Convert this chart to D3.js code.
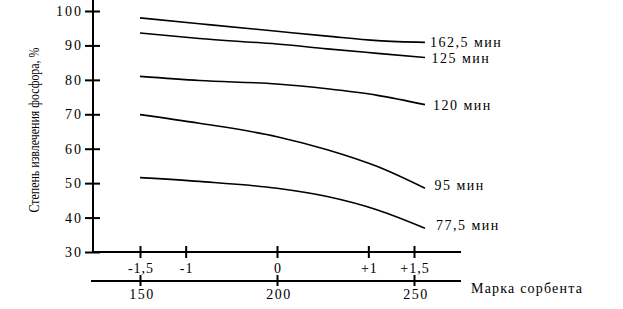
<!DOCTYPE html>
<html><head><meta charset="utf-8">
<script src="https://cdn.jsdelivr.net/npm/d3@7"></script>
<style>
html,body{margin:0;padding:0;background:#fff;}
svg{display:block;}
text{font-family:"Liberation Serif","Times New Roman",serif;fill:#000;}
</style></head>
<body>
<svg id="c" width="623" height="309"></svg>
<script>
// data
const codes = [-1.5, -0.85, 0, 0.55, 1.1, 1.62];           // coded sorbent grade positions
const seriesNames = ["162,5 мин", "125 мин", "120 мин", "95 мин", "77,5 мин"];
const s162 = [98.0, 96.3, 94.1, 92.7, 91.4, 90.9];
const s125 = [93.6, 92.0, 90.4, 89.0, 87.7, 86.5];
const s120 = [81.0, 79.8, 78.8, 77.4, 75.5, 72.8];
const s95  = [69.9, 67.4, 63.5, 59.7, 54.8, 48.5];
const s775 = [51.6, 50.5, 48.5, 46.1, 42.2, 36.9];
const yTicks = [30, 40, 50, 60, 70, 80, 90, 100];
const codeTicks = [-1.5, -1, 0, 1, 1.5];
const codeLabels = ["-1,5", "-1", "0", "+1", "+1,5"];
const markTicks = [150, 200, 250];
const yTitle = "Степень извлечения фосфора, %";
const xTitle = "Марка сорбента";

const svg = d3.select("#c");
const y = d3.scaleLinear().domain([30, 100]).range([252, 11]);
const xc = d3.scaleLinear().domain([-1.5, 1.5]).range([140, 414]);
const xm = d3.scaleLinear().domain([150, 250]).range([140, 414]);
const axX = 93;

// y axis
const gy = svg.append("g").attr("transform", `translate(${axX},0)`)
  .call(d3.axisLeft(y).tickValues(yTicks).tickSize(8).tickPadding(4));
gy.select(".domain").remove();
gy.selectAll(".tick line").attr("x1", 7).attr("stroke", "#000").attr("stroke-width", 2);
gy.selectAll(".tick text").attr("font-size", 14).attr("letter-spacing", "2px")
  .attr("font-family", "Liberation Serif").attr("dx", "2");
svg.append("line").attr("x1", axX).attr("x2", axX).attr("y1", 0).attr("y2", y(30) + 1)
  .attr("stroke", "#000").attr("stroke-width", 2);

// coded x axis
const gx1 = svg.append("g").attr("transform", `translate(0,${y(30)})`)
  .call(d3.axisBottom(xc).tickValues(codeTicks).tickSize(6).tickPadding(5)
    .tickFormat((d, i) => codeLabels[i]));
gx1.select(".domain").remove();
gx1.selectAll(".tick line").attr("y1", -6).attr("stroke", "#000").attr("stroke-width", 2);
gx1.selectAll(".tick text").attr("font-size", 14).attr("letter-spacing", "1px")
  .attr("font-family", "Liberation Serif").attr("dx", "0.5");
svg.append("line").attr("x1", axX - 1).attr("x2", 461).attr("y1", y(30)).attr("y2", y(30))
  .attr("stroke", "#000").attr("stroke-width", 2);

// grade axis
const y2 = 281;
const gx2 = svg.append("g").attr("transform", `translate(0,${y2})`)
  .call(d3.axisBottom(xm).tickValues(markTicks).tickSize(5).tickPadding(3));
gx2.select(".domain").remove();
gx2.selectAll(".tick line").attr("y1", -6).attr("stroke", "#000").attr("stroke-width", 2);
gx2.selectAll(".tick text").attr("font-size", 14).attr("letter-spacing", "1.5px")
  .attr("font-family", "Liberation Serif").attr("dx", "1.5");
svg.append("line").attr("x1", 91).attr("x2", 461).attr("y1", y2).attr("y2", y2)
  .attr("stroke", "#000").attr("stroke-width", 2);

svg.append("text").attr("x", 471).attr("y", 293).attr("font-size", 14)
  .attr("letter-spacing", "1.2px").text(xTitle);

svg.append("text").attr("transform", "translate(39,130) rotate(-90)")
  .attr("text-anchor", "middle").attr("font-size", 14)
  .attr("textLength", 165).attr("lengthAdjust", "spacingAndGlyphs").text(yTitle);

// curves
const series = [s162, s125, s120, s95, s775];
const labelDy = [0, 1, 0, -3, -3];
const line = d3.line().x((d, i) => xc(codes[i])).y(d => y(d)).curve(d3.curveMonotoneX);
series.forEach((s, k) => {
  svg.append("path").attr("d", line(s)).attr("fill", "none")
    .attr("stroke", "#000").attr("stroke-width", 1.6);
  svg.append("text").attr("x", xc(codes[codes.length - 1]) + 5 + k * 1.5)
    .attr("y", y(s[s.length - 1]) + labelDy[k]).attr("dy", "0.35em")
    .attr("font-size", 14).attr("letter-spacing", "1.5px").text(seriesNames[k]);
});
</script>
</body></html>
